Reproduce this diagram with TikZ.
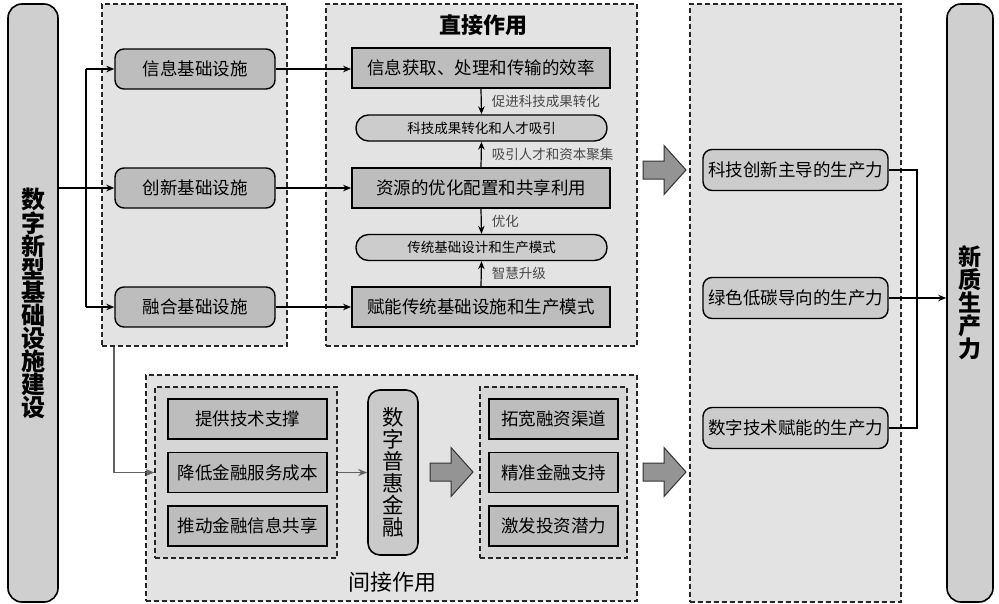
\documentclass[tikz,border=0pt]{standalone}
\usepackage{fontspec}
\setmainfont{Noto Sans CJK SC}
\usepackage{xcolor}
\usetikzlibrary{arrows.meta}

\definecolor{panelg}{gray}{0.89}
\definecolor{innerg}{gray}{0.84}
\definecolor{boxg}{gray}{0.74}
\definecolor{pillg}{gray}{0.80}
\definecolor{tallg}{gray}{0.81}
\definecolor{bigg}{gray}{0.58}
\definecolor{labg}{gray}{0.28}

\tikzset{
  panelbox/.style={draw=black!85, line width=1.2pt, dash pattern=on 5pt off 3pt, fill=panelg, inner sep=0pt},
  roundbox/.style={draw, line width=1.4pt, rounded corners=9pt, fill=boxg, minimum height=40pt, inner sep=1pt, font=\fontsize{17.5}{20}\selectfont},
  rectbox/.style={draw, line width=1.8pt, fill=boxg, minimum height=40pt, inner sep=1pt, font=\fontsize{17.5}{20}\selectfont},
  pillbox/.style={draw, line width=1.4pt, rounded corners=12.5pt, fill=pillg, minimum height=26pt, inner sep=1pt, font=\fontsize{13.5}{16}\selectfont},
  tallbox/.style={draw, line width=1.6pt, rounded corners=14pt, fill=tallg, minimum height=598pt, align=center, inner sep=0pt},
  arr/.style={-{Stealth[length=8pt,width=6.5pt]}, line width=1.2pt},
  garr/.style={-{Stealth[length=9pt,width=7pt]}, draw=black!62, line width=1.8pt},
  lbl/.style={anchor=west, xshift=9pt, inner sep=1pt, text=labg, font=\fontsize{13.5}{16}\selectfont},
  bigarr/.style={draw=black!80, line width=1pt, fill=bigg},
}

\begin{document}
\begin{tikzpicture}[x=1pt, y=-1pt]
\useasboundingbox (0,0) rectangle (999,603);
% panels
\node[panelbox, minimum width=185pt, minimum height=342pt] (P1) at (194.5,175) {};
\node[panelbox, minimum width=311pt, minimum height=342pt] (P2) at (481.5,175) {};
\node[panelbox, minimum width=211pt, minimum height=598pt] (P3) at (795.5,303) {};
\node[panelbox, minimum width=491pt, minimum height=226pt] (P4) at (391.5,488) {};
\node[panelbox, fill=innerg, minimum width=182pt, minimum height=171pt] (Q1) at (246,472.5) {};
\node[panelbox, fill=innerg, minimum width=147pt, minimum height=171pt] (Q2) at (553.5,472.5) {};
\node[font=\fontsize{22}{24}\selectfont\bfseries] (T1) at (483,25) {直接作用};
\node[font=\fontsize{22}{24}\selectfont] (T2) at (392,582) {间接作用};

% tall boxes
\node[tallbox, minimum width=50pt, font=\fontsize{24}{23}\selectfont\bfseries] (L) at (33,303)
  {数\\字\\新\\型\\基\\础\\设\\施\\建\\设};
\node[tallbox, minimum width=46pt, font=\fontsize{23}{23}\selectfont\bfseries] (R) at (970,303)
  {新\\质\\生\\产\\力};

% infrastructure
\node[roundbox, minimum width=160pt] (a1) at (195,69) {信息基础设施};
\node[roundbox, minimum width=160pt] (a2) at (195,188) {创新基础设施};
\node[roundbox, minimum width=160pt] (a3) at (195,307) {融合基础设施};

% direct effect
\node[rectbox, minimum width=258pt] (r1) at (481,68) {信息获取、处理和传输的效率};
\node[pillbox, minimum width=251pt] (s1) at (481.5,128) {科技成果转化和人才吸引};
\node[rectbox, minimum width=258pt] (r2) at (481,188) {资源的优化配置和共享利用};
\node[pillbox, minimum width=251pt] (s2) at (481.5,247.5) {传统基础设计和生产模式};
\node[rectbox, minimum width=258pt] (r3) at (481,307) {赋能传统基础设施和生产模式};

% productivity
\node[roundbox, minimum width=185pt, minimum height=41pt, fill=pillg] (b1) at (795.5,170) {科技创新主导的生产力};
\node[roundbox, minimum width=185pt, minimum height=41pt, fill=pillg] (b2) at (795.5,298) {绿色低碳导向的生产力};
\node[roundbox, minimum width=185pt, minimum height=41pt, fill=pillg] (b3) at (795.5,428) {数字技术赋能的生产力};

% indirect effect
\node[rectbox, minimum width=159pt] (c1) at (247.5,419) {提供技术支撑};
\node[rectbox, minimum width=159pt] (c2) at (247.5,472.5) {降低金融服务成本};
\node[rectbox, minimum width=159pt] (c3) at (247.5,526) {推动金融信息共享};
\node[tallbox, minimum width=50pt, minimum height=165pt, rounded corners=12pt, fill=boxg!80!white,
  font=\fontsize{21.5}{22}\selectfont] (F) at (393,472.5) {数\\字\\普\\惠\\金\\融};
\node[rectbox, minimum width=129pt] (d1) at (553.5,419) {拓宽融资渠道};
\node[rectbox, minimum width=129pt] (d2) at (553.5,472.5) {精准金融支持};
\node[rectbox, minimum width=129pt] (d3) at (553.5,526) {激发投资潜力};

% connectors
\coordinate (t) at (86,188);
\draw[arr] (L.east |- a2) -- (a2.west);
\draw[line width=1.2pt] (t |- a1) -- (t |- a3);
\draw[arr] (t |- a1) -- (a1.west);
\draw[arr] (t |- a3) -- (a3.west);
\draw[arr] (a1.east) -- (a1.east -| r1.west);
\draw[arr] (a2.east) -- (r2.west);
\draw[arr] (a3.east) -- (r3.west);
\draw[arr] (r1.south) -- node[lbl] {促进科技成果转化} (s1.north);
\draw[arr] (r2.north) -- node[lbl] {吸引人才和资本聚集} (s1.south);
\draw[arr] (r2.south) -- node[lbl] {优化} (s2.north);
\draw[arr] (r3.north) -- node[lbl] {智慧升级} (s2.south);
\coordinate (k) at (917,298);
\draw[line width=1.2pt] (b1.east) -| (k);
\draw[line width=1.2pt] (b3.east) -| (k);
\draw[arr] (b2.east) -- (b2.east -| R.west);
\draw[garr] (P1.south -| a3.west) |- (Q1.west);
\draw[garr] (Q1.east) -- (F.west);

% block arrows
\foreach \x/\y in {643/170, 643/472, 430/472}
  \draw[bigarr] (\x,\y-9) -- ++(21,0) -- ++(0,-15.5) -- (\x+43,\y) -- (\x+21,\y+24.5)
    -- ++(0,-15.5) -- (\x,\y+9) -- cycle;
\end{tikzpicture}
\end{document}
